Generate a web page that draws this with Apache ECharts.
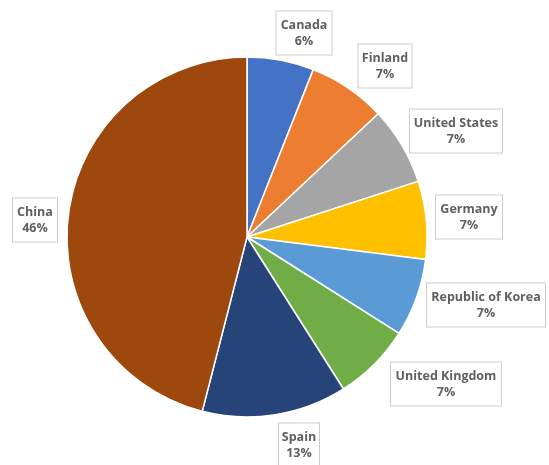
<!DOCTYPE html>
<html><head><meta charset="utf-8">
<script src="https://cdn.jsdelivr.net/npm/echarts@6/dist/echarts.min.js"></script>
<style>html,body{margin:0;padding:0;background:#fff}#c{width:549px;height:465px}</style>
</head><body><div id="c"></div>
<script>
const countries = ['Canada','Finland','United States','Germany','Republic of Korea','United Kingdom','Spain','China'];
const shares = [6,7,7,7,7,7,13,46];
const colors = ['#4472C4','#ED7D31','#A5A5A5','#FFC000','#5B9BD5','#70AD47','#264478','#9E480E'];
const labelCenters = [[304,33],[385,66],[456,131],[469,217],[486,305],[446,384],[299,445],[35,220]];
const labelWidths = [45,43,82,56,108,100,30,34];

const chart = echarts.init(document.getElementById('c'));
chart.setOption({
  animation:false,
  series:[{
    type:'pie',
    center:[247,237],
    radius:[0,180],
    startAngle:90,
    clockwise:true,
    data: countries.map((n,i)=>({name:n,value:shares[i],itemStyle:{color:colors[i]},label:{width:labelWidths[i]}})),
    itemStyle:{borderColor:'#fff',borderWidth:1.5},
    label:{
      show:true,
      position:'outside',
      alignTo:'none',
      overflow:'none',
      formatter:'{b}\n{c}%',
      color:'#606060',
      fontFamily:'"Open Sans", sans-serif',
      fontSize:12.5,
      fontWeight:'bold',
      lineHeight:16,
      backgroundColor:'#fff',
      borderColor:'#cccccc',
      borderWidth:1,
      padding:[6,5,5,5],
      align:'center'
    },
    labelLine:{show:false},
    labelLayout:function(p){
      const c = labelCenters[p.dataIndex];
      return {x:c[0], y:c[1], align:'center', verticalAlign:'middle'};
    }
  }]
});
</script></body></html>
